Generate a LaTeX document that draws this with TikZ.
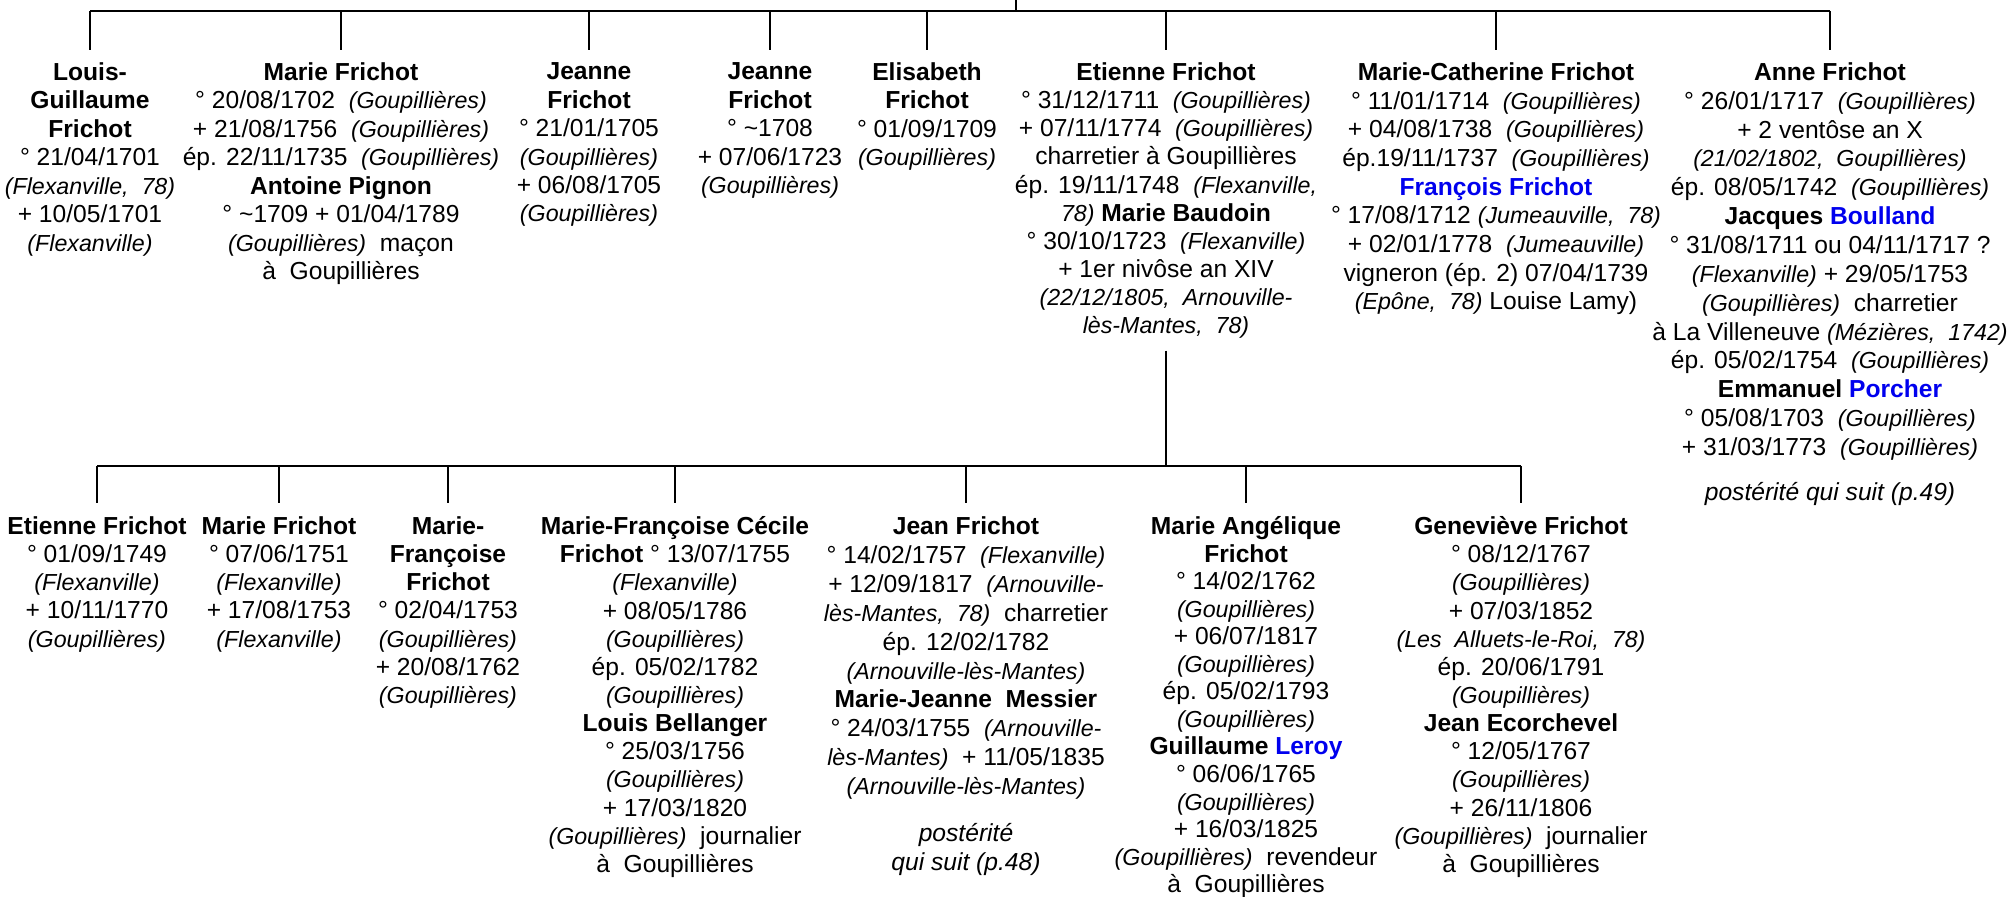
\documentclass[tikz,border=0pt]{standalone}
\usepackage{fontspec}
\setmainfont{Liberation Sans}
\definecolor{myblue}{RGB}{0,0,238}
\newcommand{\lieu}[1]{{\fontsize{6.6}{8}\selectfont\itshape #1}}
\newcommand{\bleu}[1]{\textcolor{myblue}{#1}}

\begin{document}
\begin{tikzpicture}[x=0.01cm,y=0.01cm,line width=0.65pt,
  person/.style={align=center,anchor=north,inner sep=0pt},
  fgnode/.style={person,font=\fontsize{7}{#1}\selectfont},
  fgnode/.default=8.1pt,
  sgnode/.style={person,font=\fontsize{7}{#1}\selectfont},
  sgnode/.default=8pt]

  \useasboundingbox (0,0) rectangle (2009,897);

  \coordinate (root) at (1016,897);
  \coordinate (bar1) at (0,886);
  \coordinate (leg1) at (0,847);
  \coordinate (bar2) at (0,431);
  \coordinate (leg2) at (0,394);

  % first generation
  \node[fgnode] (lgf) at (90,835.5) {\textbf{Louis-}\\\textbf{Guillaume}\\\textbf{Frichot}\\° 21/04/1701\\\lieu{(Flexanville,~ 78)}\\+ 10/05/1701\\\lieu{(Flexanville)}};
  \node[fgnode] (mfr) at (341,835.5) {\textbf{Marie Frichot}\\° 20/08/1702~ \lieu{(Goupillières)}\\+ 21/08/1756~ \lieu{(Goupillières)}\\ép. 22/11/1735~ \lieu{(Goupillières)}\\\textbf{Antoine Pignon}\\° \textasciitilde1709 + 01/04/1789\\\lieu{(Goupillières)}~ maçon\\à~ Goupillières};
  \node[fgnode] (jfa) at (589,835.5) {\textbf{Jeanne}\\\textbf{Frichot}\\° 21/01/1705\\\lieu{(Goupillières)}\\+ 06/08/1705\\\lieu{(Goupillières)}};
  \node[fgnode] (jfb) at (770,835.5) {\textbf{Jeanne}\\\textbf{Frichot}\\° \textasciitilde1708\\+ 07/06/1723\\\lieu{(Goupillières)}};
  \node[fgnode] (elf) at (927,835.5) {\textbf{Elisabeth}\\\textbf{Frichot}\\° 01/09/1709\\\lieu{(Goupillières)}};
  \node[fgnode=8pt] (etf) at (1166,835.5) {\textbf{Etienne Frichot}\\° 31/12/1711~ \lieu{(Goupillières)}\\+ 07/11/1774~ \lieu{(Goupillières)}\\charretier à Goupillières\\ép. 19/11/1748~ \lieu{(Flexanville,}\\\lieu{78)} \textbf{Marie Baudoin}\\° 30/10/1723~ \lieu{(Flexanville)}\\+ 1er nivôse an XIV\\\lieu{(22/12/1805,~ Arnouville-}\\\lieu{lès-Mantes,~ 78)}};
  \node[fgnode=8.15pt] (mcf) at (1496,835.5) {\textbf{Marie-Catherine Frichot}\\° 11/01/1714~ \lieu{(Goupillières)}\\+ 04/08/1738~ \lieu{(Goupillières)}\\ép.19/11/1737~ \lieu{(Goupillières)}\\\textbf{\bleu{François Frichot}}\\° 17/08/1712 \lieu{(Jumeauville,~ 78)}\\+ 02/01/1778~ \lieu{(Jumeauville)}\\vigneron (ép. 2) 07/04/1739\\\lieu{(Epône,~ 78)} Louise Lamy)};
  \node[fgnode=8.2pt] (anf) at (1830,835.5) {\textbf{Anne Frichot}\\° 26/01/1717~ \lieu{(Goupillières)}\\+ 2 ventôse an X\\\lieu{(21/02/1802,~ Goupillières)}\\ép. 08/05/1742~ \lieu{(Goupillières)}\\\textbf{Jacques \bleu{Boulland}}\\° 31/08/1711 ou 04/11/1717 ?\\\lieu{(Flexanville)} + 29/05/1753\\\lieu{(Goupillières)}~ charretier\\à La Villeneuve \lieu{(Mézières,~ 1742)}\\ép. 05/02/1754~ \lieu{(Goupillières)}\\\textbf{Emmanuel \bleu{Porcher}}\\° 05/08/1703~ \lieu{(Goupillières)}\\+ 31/03/1773~ \lieu{(Goupillières)}\\[0.16cm]\textit{postérité qui suit (p.49)}};

  % second generation
  \node[sgnode] (ef2) at (97,381.5) {\textbf{Etienne Frichot}\\° 01/09/1749\\\lieu{(Flexanville)}\\+ 10/11/1770\\\lieu{(Goupillières)}};
  \node[sgnode] (mfr2) at (279,381.5) {\textbf{Marie Frichot}\\° 07/06/1751\\\lieu{(Flexanville)}\\+ 17/08/1753\\\lieu{(Flexanville)}};
  \node[sgnode] (mff) at (448,381.5) {\textbf{Marie-}\\\textbf{Françoise}\\\textbf{Frichot}\\° 02/04/1753\\\lieu{(Goupillières)}\\+ 20/08/1762\\\lieu{(Goupillières)}};
  \node[sgnode] (mfc) at (675,381.5) {\textbf{Marie-Françoise Cécile}\\\textbf{Frichot} ° 13/07/1755\\\lieu{(Flexanville)}\\+ 08/05/1786\\\lieu{(Goupillières)}\\ép. 05/02/1782\\\lieu{(Goupillières)}\\\textbf{Louis Bellanger}\\° 25/03/1756\\\lieu{(Goupillières)}\\+ 17/03/1820\\\lieu{(Goupillières)}~ journalier\\à~ Goupillières};
  \node[sgnode=8.22pt] (jnf) at (966,381.5) {\textbf{Jean Frichot}\\° 14/02/1757~ \lieu{(Flexanville)}\\+ 12/09/1817~ \lieu{(Arnouville-}\\\lieu{lès-Mantes,~ 78)}~ charretier\\ép. 12/02/1782\\\lieu{(Arnouville-lès-Mantes)}\\\textbf{Marie-Jeanne~ Messier}\\° 24/03/1755~ \lieu{(Arnouville-}\\\lieu{lès-Mantes)}~ + 11/05/1835\\\lieu{(Arnouville-lès-Mantes)}\\[0.18cm]\textit{postérité}\\\textit{qui suit (p.48)}};
  \node[sgnode=7.83pt] (maf) at (1246,381.5) {\textbf{Marie Angélique}\\\textbf{Frichot}\\° 14/02/1762\\\lieu{(Goupillières)}\\+ 06/07/1817\\\lieu{(Goupillières)}\\ép. 05/02/1793\\\lieu{(Goupillières)}\\\textbf{Guillaume \bleu{Leroy}}\\° 06/06/1765\\\lieu{(Goupillières)}\\+ 16/03/1825\\\lieu{(Goupillières)}~ revendeur\\à~ Goupillières};
  \node[sgnode] (gvf) at (1521,381.5) {\textbf{Geneviève Frichot}\\° 08/12/1767\\\lieu{(Goupillières)}\\+ 07/03/1852\\\lieu{(Les~ Alluets-le-Roi,~ 78)}\\ép. 20/06/1791\\\lieu{(Goupillières)}\\\textbf{Jean Ecorchevel}\\° 12/05/1767\\\lieu{(Goupillières)}\\+ 26/11/1806\\\lieu{(Goupillières)}~ journalier\\à~ Goupillières};

  % draw legs for first generation
  \draw (root) -- (root |- bar1);
  \draw (lgf.north |- bar1) -- (anf.north |- bar1);
  \foreach \n in {lgf,mfr,jfa,jfb,elf,etf,mcf,anf}
    \draw (\n.north |- bar1) -- (\n.north |- leg1);

  % draw legs for second generation
  \draw ([yshift=-0.11cm]etf.south) -- (etf.south |- bar2);
  \draw (ef2.north |- bar2) -- (gvf.north |- bar2);
  \foreach \n in {ef2,mfr2,mff,mfc,jnf,maf,gvf}
    \draw (\n.north |- bar2) -- (\n.north |- leg2);

\end{tikzpicture}
\end{document}
